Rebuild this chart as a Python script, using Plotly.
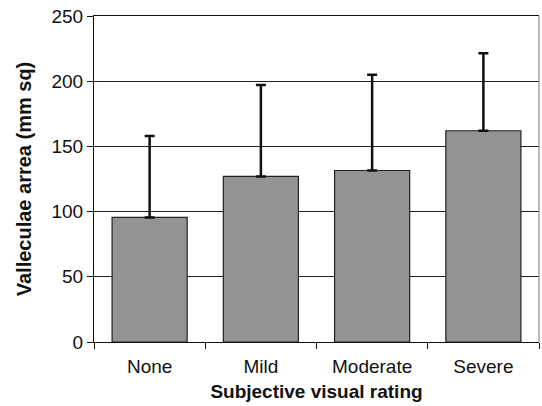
import plotly.graph_objects as go

# Mean valleculae area per rating group, with upper standard deviation
categories = ["None", "Mild", "Moderate", "Severe"]
mean_area = [95.5, 127, 131.5, 162]
sd_upper = [62.5, 70, 73.5, 59.5]
y_ticks = [0, 50, 100, 150, 200, 250]

FONT = "Liberation Sans, Arial, Helvetica, sans-serif"

fig = go.Figure()
fig.add_trace(go.Bar(
    x=categories,
    y=mean_area,
    marker=dict(color="#939393", line=dict(color="#222222", width=1.2)),
    error_y=dict(
        type="data", symmetric=False, array=sd_upper,
        arrayminus=[0] * len(sd_upper),
        color="#111111", thickness=2.5, width=5,
    ),
    hoverinfo="x+y",
))

fig.update_layout(
    width=542, height=406,
    margin=dict(l=94, r=3, t=16, b=64),
    paper_bgcolor="white", plot_bgcolor="white",
    bargap=0.325,
    showlegend=False,
    font=dict(family=FONT, size=19, color="#111111"),
    xaxis=dict(
        showline=True, linecolor="#111111", linewidth=1.2, mirror=True,
        ticks="outside", tickson="boundaries", ticklen=6,
        tickcolor="#111111", tickwidth=1,
        tickfont=dict(size=19), ticklabelstandoff=7,
        title=dict(text="<b>Subjective visual rating</b>",
                   font=dict(size=19), standoff=8),
    ),
    yaxis=dict(
        range=[0, 250], tickvals=y_ticks,
        showline=True, linecolor="#111111", linewidth=1.2,
        showgrid=True, gridcolor="#222222", gridwidth=1,
        ticks="outside", ticklen=6, tickcolor="#111111", tickwidth=1,
        tickfont=dict(size=19),
        title=dict(text="<b>Valleculae arrea (mm sq)</b>",
                   font=dict(size=20), standoff=14),
        zeroline=False,
    ),
    shapes=[dict(type="line", xref="paper", yref="paper",
                 x0=1, x1=1, y0=0, y1=1,
                 line=dict(color="#8a8a8a", width=1.2))],
)

fig.write_html("out.html")
